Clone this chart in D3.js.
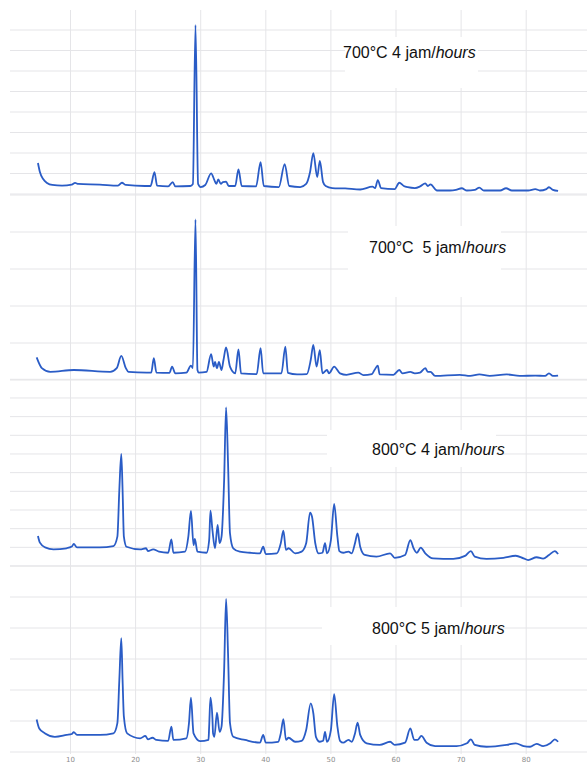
<!DOCTYPE html>
<html>
<head>
<meta charset="utf-8">
<script src="https://cdn.jsdelivr.net/npm/d3@7"></script>
<style>
  body { margin: 0; background: #fff; }
  svg { display: block; }
</style>
</head>
<body>
<svg id="chart"></svg>
<script>
// 2θ (deg) vs intensity (a.u.)
const s700_4 = [
  [5.0,151],[5.3,107],[5.8,73],[6.4,54],[7.2,44],[8.7,41],[10.2,46],[10.7,54],[11.2,49],[14.5,46],
  [17.3,41],[17.9,55],[18.5,44],[21.4,39],[22.3,39],[22.9,107],[23.3,41],[25.0,37],[25.7,58],[26.1,37],
  [28.4,39],[28.8,49],[29.2,824],[29.6,49],[30.0,34],[30.7,44],[31.6,101],[32.1,68],[32.4,49],[32.7,71],
  [33.1,49],[33.4,58],[33.9,60],[34.3,39],[35.3,39],[35.8,120],[36.3,39],[38.5,37],[39.2,155],[39.7,39],
  [42.0,34],[42.9,146],[43.6,39],[45.3,34],[46.2,49],[46.8,107],[47.3,199],[47.9,83],[48.3,161],[48.8,58],
  [49.2,39],[50.2,29],[52.2,27],[54.5,22],[56.4,36],[56.8,29],[57.2,68],[57.7,29],[59.8,24],[60.5,55],
  [61.2,39],[61.8,33],[62.9,29],[63.7,37],[64.5,52],[64.9,39],[65.3,47],[66.3,17],[68.3,17],[69.2,20],
  [70.1,28],[70.9,17],[72.1,20],[72.8,31],[73.5,17],[76.0,17],[76.9,28],[77.8,17],[80.3,17],[81.4,24],
  [82.1,17],[83.1,24],[83.5,33],[84.1,20],[84.9,15]
];
const s700_5 = [
  [4.8,61],[5.6,32],[6.9,22],[10.5,27],[16.1,22],[17.1,32],[17.8,65],[18.5,32],[18.9,22],[21.7,20],
  [22.4,20],[22.8,59],[23.2,20],[25.2,19],[25.6,36],[26.1,18],[27.8,20],[28.5,39],[28.8,32],[29.2,434],
  [29.5,27],[29.7,20],[30.9,22],[31.6,70],[32.0,36],[32.2,49],[32.5,32],[32.8,49],[33.2,27],[33.5,54],
  [33.9,88],[34.5,36],[35.3,18],[35.8,83],[36.2,18],[38.6,16],[39.2,86],[39.6,18],[42.4,18],[43.0,90],
  [43.4,19],[44.8,15],[46.3,16],[46.9,54],[47.3,95],[47.8,36],[48.3,81],[48.7,18],[49.4,27],[49.7,18],
  [50.5,36],[51.4,18],[52.4,14],[54.2,20],[55.0,13],[56.3,16],[56.7,27],[57.2,39],[57.5,15],[59.6,14],
  [60.5,27],[61.0,18],[62.2,22],[62.9,18],[63.7,20],[64.5,32],[64.9,22],[65.3,22],[66.0,11],[69.8,14],
  [71.4,11],[72.8,15],[74.4,11],[77.0,15],[79.0,11],[81.4,12],[82.9,11],[83.5,18],[84.1,11],[84.9,12]
];
const s800_4 = [
  [5.0,161],[5.3,125],[6.1,100],[7.4,89],[9.4,95],[10.2,104],[10.5,118],[11.0,100],[14.5,100],[16.6,107],
  [17.2,157],[17.5,407],[17.8,600],[18.0,407],[18.2,157],[18.6,103],[20.7,89],[21.6,95],[21.9,80],[22.7,89],
  [23.6,77],[25.0,71],[25.5,143],[25.8,71],[27.6,77],[28.1,157],[28.5,295],[28.9,112],[29.1,145],[29.5,77],
  [30.9,71],[31.3,139],[31.5,296],[31.8,193],[32.2,95],[32.6,220],[32.9,122],[33.2,157],[33.6,461],[33.9,850],
  [34.2,550],[34.5,175],[35.0,95],[36.0,77],[37.6,71],[39.1,68],[39.6,103],[40.0,64],[41.7,68],[42.3,122],
  [42.7,189],[43.1,86],[43.5,95],[44.5,68],[45.5,77],[46.2,122],[46.8,286],[47.1,264],[47.6,122],[48.1,68],
  [48.7,71],[49.1,122],[49.4,68],[50.0,139],[50.5,332],[51.0,157],[51.3,80],[51.9,71],[52.7,77],[53.2,68],
  [53.7,122],[54.1,175],[54.5,103],[55.2,59],[57.0,50],[59.1,68],[59.8,44],[61.4,59],[62.2,139],[62.7,95],
  [63.2,71],[63.8,98],[64.5,68],[65.7,41],[68.8,38],[70.6,54],[71.5,80],[72.1,50],[73.9,38],[76.5,44],
  [78.4,55],[79.6,41],[80.3,32],[81.6,47],[82.6,39],[83.5,59],[84.4,80],[84.9,64]
];
const s800_5 = [
  [4.8,105],[5.2,76],[6.1,60],[7.6,49],[9.4,55],[10.2,58],[10.5,64],[11.0,55],[14.5,55],[16.6,60],
  [17.2,93],[17.5,232],[17.8,367],[18.0,232],[18.2,114],[18.7,60],[20.7,44],[21.5,52],[21.9,41],[22.6,46],
  [23.2,39],[25.0,36],[25.5,82],[25.8,39],[27.8,44],[28.2,93],[28.5,175],[28.9,60],[29.9,35],[31.2,39],
  [31.3,82],[31.5,175],[31.8,109],[31.9,60],[32.1,49],[32.5,127],[32.9,65],[33.2,82],[33.6,265],[33.9,494],
  [34.2,318],[34.5,93],[35.0,49],[36.8,39],[39.1,30],[39.6,55],[40.0,30],[41.9,33],[42.3,60],[42.7,106],
  [43.1,39],[43.5,46],[44.5,33],[45.5,36],[46.2,71],[46.9,157],[47.3,125],[47.7,49],[48.3,33],[48.8,36],
  [49.1,65],[49.4,33],[50.0,71],[50.5,187],[51.0,82],[51.4,36],[51.9,30],[52.7,39],[53.2,33],[53.7,60],
  [54.1,95],[54.5,55],[55.5,28],[57.5,23],[59.1,33],[59.8,23],[61.4,30],[62.2,76],[62.8,39],[63.3,39],
  [63.9,52],[64.7,30],[66.0,19],[69.3,19],[70.9,28],[71.5,41],[72.1,23],[73.9,17],[77.0,23],[78.4,28],
  [79.6,19],[80.6,17],[81.6,26],[82.6,19],[83.7,28],[84.4,41],[84.9,33]
];

const sampleNames = ['700°C 4 jam/', '700°C  5 jam/', '800°C 4 jam/', '800°C 5 jam/'];
const unitLabel = 'hours';
const xTicks = [10, 20, 30, 40, 50, 60, 70, 80];
const yTickSets = [
  [0, 100, 200, 300, 400, 500, 600, 700, 800],
  [0, 100, 200, 300, 400, 500],
  [0, 100, 200, 300, 400, 500, 600, 700, 800, 900, 1000],
  [0, 100, 200, 300, 400, 500, 600]
];
const series = [s700_4, s700_5, s800_4, s800_5];

const W = 587, H = 767;
const svg = d3.select('#chart').attr('width', W).attr('height', H);

// layout of each stacked panel
const panels = [
  { bottom: 194, step: 20.5, box: [345, 37, 133, 51], tx: 343, ty: 58 },
  { bottom: 380, step: 37, box: [348, 226, 153, 71], tx: 369, ty: 253 },
  { bottom: 566, step: 18.67, box: [327, 430, 169, 37], tx: 372, ty: 455 },
  { bottom: 752, step: 31, box: [322, 607, 176, 38], tx: 372, ty: 634 }
];

const x = d3.scaleLinear().domain([10, 80]).range([70.5, 526.2]);

const grid = svg.append('g').attr('stroke', '#e5e5e8').attr('stroke-width', 1);

// vertical grid
grid.selectAll('line.v')
  .data(xTicks)
  .join('line')
  .attr('x1', (d) => x(d)).attr('x2', (d) => x(d))
  .attr('y1', 10).attr('y2', 754);

// horizontal grid per panel
const yScales = panels.map((p, i) => {
  const ticks = yTickSets[i];
  const top = d3.max(ticks);
  const y = d3.scaleLinear().domain([0, top]).range([p.bottom, p.bottom - p.step * top / 100]);
  grid.selectAll(null)
    .data(ticks)
    .join('line')
    .attr('x1', 10).attr('x2', W)
    .attr('y1', (d) => y(d)).attr('y2', (d) => y(d));
  return y;
});

// white label backgrounds
panels.forEach((p) => {
  svg.append('rect')
    .attr('x', p.box[0]).attr('y', p.box[1])
    .attr('width', p.box[2]).attr('height', p.box[3])
    .attr('fill', '#fff');
});

// patterns
series.forEach((s, i) => {
  const y = yScales[i];
  const line = d3.line()
    .x((d) => x(d[0]))
    .y((d) => y(d[1]))
    .curve(d3.curveMonotoneX);
  svg.append('path')
    .datum(s)
    .attr('fill', 'none')
    .attr('stroke', '#2a5cc6')
    .attr('stroke-width', 1.8)
    .attr('stroke-linejoin', 'round')
    .attr('d', line);
});

// sample labels
panels.forEach((p, i) => {
  const t = svg.append('text')
    .attr('x', p.tx).attr('y', p.ty)
    .style('font-family', 'Liberation Sans, Arial, sans-serif')
    .style('font-size', '16px')
    .style('white-space', 'pre')
    .attr('fill', '#111');
  t.append('tspan').text(sampleNames[i]);
  t.append('tspan').style('font-style', 'italic').text(unitLabel);
});

// x tick labels
svg.append('g')
  .selectAll('text')
  .data(xTicks)
  .join('text')
  .attr('x', (d) => x(d))
  .attr('y', 762)
  .attr('text-anchor', 'middle')
  .style('font-family', 'DejaVu Sans, sans-serif')
  .style('font-size', '7px')
  .attr('fill', '#8c8c8c')
  .text((d) => d);
</script>
</body>
</html>
